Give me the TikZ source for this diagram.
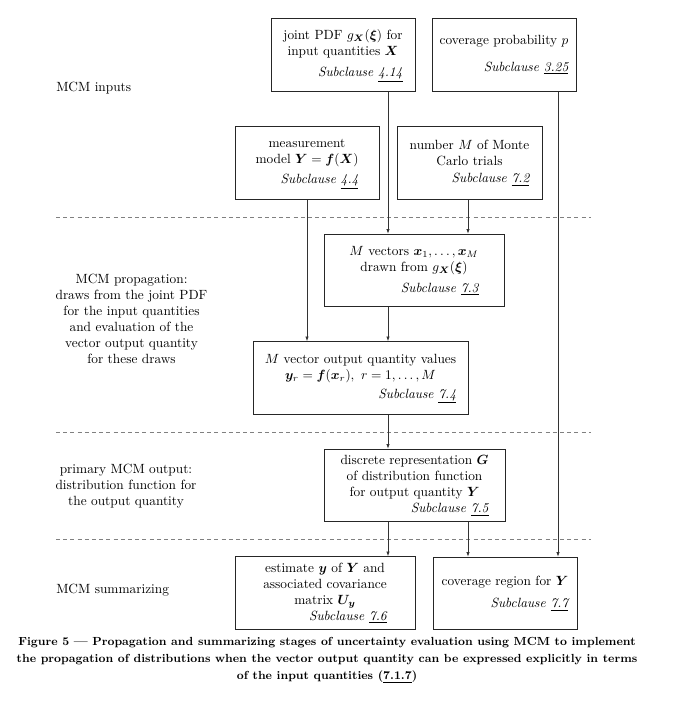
\documentclass[tikz,border=0pt]{standalone}
\usepackage{bm}
\usetikzlibrary{arrows.meta}

\tikzset{>=latex}
\colorlet{boxcol}{black!85}
\colorlet{linecol}{black!80}
\colorlet{sepcol}{black!50}
\tikzstyle{stage}=[draw=boxcol,line width=0.7pt,minimum height=54.5pt,inner sep=0pt]
\tikzstyle{flow}=[-{Latex[length=3.5pt,width=2.6pt]},linecol,line width=0.6pt]
\tikzstyle{sepline}=[sepcol,line width=0.65pt,dash pattern=on 3pt off 2.4pt]
\tikzstyle{label}=[inner sep=0pt,align=center]
% box text: centred lines, subclause flush right underneath
\newcommand\stagetext[3]{\begin{tabular}{@{}c@{}}#1\\[#3]\multicolumn{1}{@{}r@{}}{\textit{Subclause \underline{#2}}}\end{tabular}}

\begin{document}
\begin{tikzpicture}[x=0.75pt,y=-0.75pt]
  \useasboundingbox (0,0) rectangle (672,705);
  \coordinate (colA) at (388,0);
  \coordinate (colD) at (468,0);
  \coordinate (colB) at (558,0);

  % INPUTS
  \node[stage,minimum width=108pt] (A) at (343,55)
    {\stagetext{joint PDF $g_{\bm X}(\bm\xi)$ for\\input quantities $\bm X$}{4.14}{4pt}};
  \node[stage,minimum width=108pt] (B) at (504,55)
    {\raisebox{-2.5pt}{\stagetext{coverage probability $p$}{3.25}{8pt}}};
  \node[stage,minimum width=108pt] (C) at (307,163)
    {\stagetext{measurement\\model $\bm Y=\bm f(\bm X)$}{4.4}{3pt}};
  \node[stage,minimum width=108.75pt] (D) at (469.5,163)
    {\stagetext{number $M$ of Monte\\Carlo trials}{7.2}{1pt}};

  % PROPAGATION
  \node[stage,minimum width=135pt] (E) at (414,270.5)
    {\stagetext{$M$ vectors $\bm x_1,\ldots,\bm x_M$\\drawn from $g_{\bm X}(\bm\xi)$}{7.3}{4pt}};
  \node[stage,minimum width=161.25pt] (F) at (360.5,378)
    {\stagetext{$M$ vector output quantity values\\$\bm y_r=\bm f(\bm x_r),\ r=1,\ldots,M$}{7.4}{2pt}};

  % OUTPUT
  \node[stage,minimum width=135.75pt] (G) at (414.5,485.5)
    {\stagetext{discrete representation $\bm G$\\of distribution function\\for output quantity $\bm Y$}{7.5}{0pt}};

  % SUMMARIZING
  \node[stage,minimum width=135pt] (H) at (325,593)
    {\stagetext{estimate $\bm y$ of $\bm Y$ and\\associated covariance\\matrix $\bm U_{\bm y}$}{7.6}{0pt}};
  \node[stage,minimum width=108pt] (I) at (505,593.5)
    {\stagetext{coverage region for $\bm Y$}{7.7}{4.5pt}};

  % STAGE LABELS
  \node[label,anchor=west] (lin) at (56,88) {MCM inputs};
  \node[label] (lprop) at (131.5,319) {MCM propagation:\\draws from the joint PDF\\for the input quantities\\and evaluation of the\\vector output quantity\\for these draws};
  \node[label] (lout) at (126,486) {primary MCM output:\\distribution function for\\the output quantity};
  \node[label,anchor=west] (lsum) at (56,590) {MCM summarizing};

  % SEPARATORS
  \draw[sepline] (56,217) -- (591,217);
  \draw[sepline] (56,432) -- (591,432);
  \draw[sepline] (56,539) -- (591,539);

  % FLOW
  \draw[flow] (A.south -| colA) -- (E.north -| colA);
  \draw[flow] (D.south -| colD) -- (E.north -| colD);
  \draw[flow] (C.south) -- (F.north -| C.south);
  \draw[flow] (E.south -| colA) -- (F.north -| colA);
  \draw[flow] (F.south -| colA) -- (G.north -| colA);
  \draw[flow] (G.south -| colA) -- (H.north -| colA);
  \draw[flow] (G.south -| colD) -- (I.north -| colD);
  \draw[flow] (B.south -| colB) -- (I.north -| colB);

  % CAPTION
  \node[label,font=\fontsize{8.8pt}{13pt}\selectfont\bfseries] (cap) at (327,660)
    {Figure 5 --- Propagation and summarizing stages of uncertainty evaluation using MCM to implement\\the propagation of distributions when the vector output quantity can be expressed explicitly in terms\\of the input quantities (\underline{7.1.7})};
\end{tikzpicture}
\end{document}
